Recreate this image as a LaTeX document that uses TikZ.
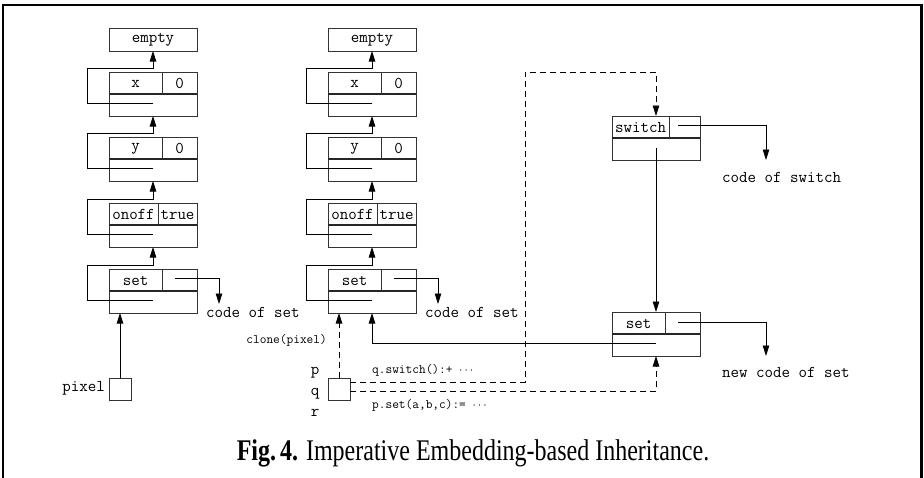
\documentclass[tikz,border=0pt]{standalone}
\usepackage{fontspec}
\setmainfont{Liberation Serif}
\usetikzlibrary{arrows.meta}
\begin{document}
\begin{tikzpicture}[x=1pt,y=-1pt,
  box/.style={draw=black!80, line width=0.9pt, minimum width=88pt, minimum height=44pt, inner sep=0pt, outer sep=0pt},
  topbox/.style={draw=black!80, line width=0.9pt, minimum width=88pt, minimum height=23pt, inner sep=0pt, outer sep=0pt},
  sbox/.style={draw=black!80, line width=0.9pt, minimum width=22pt, minimum height=22pt, inner sep=0pt, outer sep=0pt},
  lbl/.style={font=\fontsize{16.5}{18}\selectfont\ttfamily, inner sep=0pt},
  slbl/.style={font=\fontsize{13}{15}\selectfont\ttfamily, inner sep=0pt},
  ptr/.style={line width=0.8pt, -{Triangle[length=10.5pt,width=6.5pt]}},
  dptr/.style={ptr, dash pattern=on 6pt off 4pt},
  dvd/.style={line width=1.2pt, draw=black!85},
  vdv/.style={line width=0.9pt, draw=black!80},
]
\useasboundingbox (0,0) rectangle (924,477);
% frame
\draw[line width=2.2pt] (3,478) -- (3,5) -- (921.5,5) -- (921.5,478);

\foreach \dx/\c in {0/A,219/B}{
  \node[topbox,lbl] (empty\c) at ({153+\dx},39.5) {empty};
  % x
  \node[box] (x\c) at ({153+\dx},94) {};
  \draw[dvd] (x\c.west) -- (x\c.east);
  \draw[vdv] ({162+\dx},72) -- ({162+\dx},94);
  \node[lbl] (xn\c) at ({135.5+\dx},83.5) {x};
  \node[lbl] (xv\c) at ({179.5+\dx},83.5) {0};
  % y
  \node[box] (y\c) at ({153+\dx},159) {};
  \draw[dvd] (y\c.west) -- (y\c.east);
  \draw[vdv] ({162+\dx},137) -- ({162+\dx},159);
  \node[lbl] (yn\c) at ({135.5+\dx},148.5) {y};
  \node[lbl] (yv\c) at ({179.5+\dx},148.5) {0};
  % onoff
  \node[box] (o\c) at ({153+\dx},225) {};
  \draw[dvd] (o\c.west) -- (o\c.east);
  \draw[vdv] ({158+\dx},203) -- ({158+\dx},225);
  \node[lbl] (on\c) at ({133.5+\dx},214.5) {onoff};
  \node[lbl] (ov\c) at ({177.5+\dx},214.5) {true};
  % set
  \node[box] (s\c) at ({153+\dx},291) {};
  \draw[dvd] (s\c.west) -- (s\c.east);
  \draw[vdv] ({162+\dx},269) -- ({162+\dx},291);
  \node[lbl] (sn\c) at ({135.5+\dx},280.5) {set};
  % parent pointers
  \coordinate (xp\c) at ({153+\dx},103);
  \coordinate (xt\c) at ({87+\dx},68);
  \draw[ptr] (xp\c) -| (xt\c) -| (empty\c.south);
  \coordinate (yp\c) at ({153+\dx},168);
  \coordinate (yt\c) at ({87+\dx},133);
  \draw[ptr] (yp\c) -| (yt\c) -| (x\c.south);
  \coordinate (op\c) at ({153+\dx},234);
  \coordinate (ot\c) at ({87+\dx},199);
  \draw[ptr] (op\c) -| (ot\c) -| (y\c.south);
  \coordinate (sp\c) at ({153+\dx},300);
  \coordinate (st\c) at ({87+\dx},265);
  \draw[ptr] (sp\c) -| (st\c) -| (o\c.south);
  % code pointer
  \coordinate (cp\c) at ({175+\dx},278);
  \coordinate (ct\c) at ({219+\dx},304);
  \draw[ptr] (cp\c) -| (ct\c);
  \node[lbl, anchor=base west] (code\c) at ({206+\dx},317) {code of set};
}

% pixel
\node[sbox] (pixel) at (120,389) {};
\node[lbl, anchor=base east] (pixl) at (105,391) {pixel};
\draw[ptr] (pixel.north) -- (pixel.north |- sA.south);

% q
\node[sbox] (q) at (339,389) {};
\node[lbl, anchor=base] (pl) at (315,374) {p};
\node[lbl, anchor=base] (ql) at (315,395) {q};
\node[lbl, anchor=base] (rl) at (315,416) {r};
\node[slbl, anchor=base east] (clone) at (327,343) {clone(pixel)};
\draw[dptr] (q.north) -- (q.north |- sB.south);

% switch box
\node[box] (sw) at (656,138) {};
\draw[dvd] (sw.west) -- (sw.east);
\draw[vdv] (669,116) -- (669,138);
\node[lbl] (swn) at (640.5,127.5) {switch};
\coordinate (swc) at (678,125);
\coordinate (swt) at (766,160);
\draw[ptr] (swc) -| (swt);
\node[lbl, anchor=base west] (codesw) at (722,182) {code of switch};

% new set box
\node[box] (sC) at (656,334) {};
\draw[dvd] (sC.west) -- (sC.east);
\draw[vdv] (665,312) -- (665,334);
\node[lbl] (sCn) at (638.5,323.5) {set};
\coordinate (scc) at (678,322);
\coordinate (sct) at (766,356);
\draw[ptr] (scc) -| (sct);
\node[lbl, anchor=base west] (newcode) at (722,377) {new code of set};

% switch -> new set
\coordinate (swp) at (656,148);
\draw[ptr] (swp) -- (sC.north);
% new set -> old set
\coordinate (ncp) at (656,343);
\draw[ptr] (ncp) -| (sB.south);

% dashed from q
\coordinate (dturn) at (525,72);
\draw[dptr] ([yshift=7pt]q.east) -| (dturn) -| (sw.north);
\draw[dptr] ([yshift=-2pt]q.east) -| (sC.south);
\node[slbl, anchor=base west] (msg1) at (372,373) {q.switch():+ $\cdots$};
\node[slbl, anchor=base west] (msg2) at (372,408) {p.set(a,b,c):= $\cdots$};

% caption
\node[anchor=base] (cap) at (473,460) {\scalebox{0.8}[1]{\fontsize{30}{32}\selectfont\textbf{Fig.\,4.} Imperative Embedding-based Inheritance.}};
\end{tikzpicture}
\end{document}
